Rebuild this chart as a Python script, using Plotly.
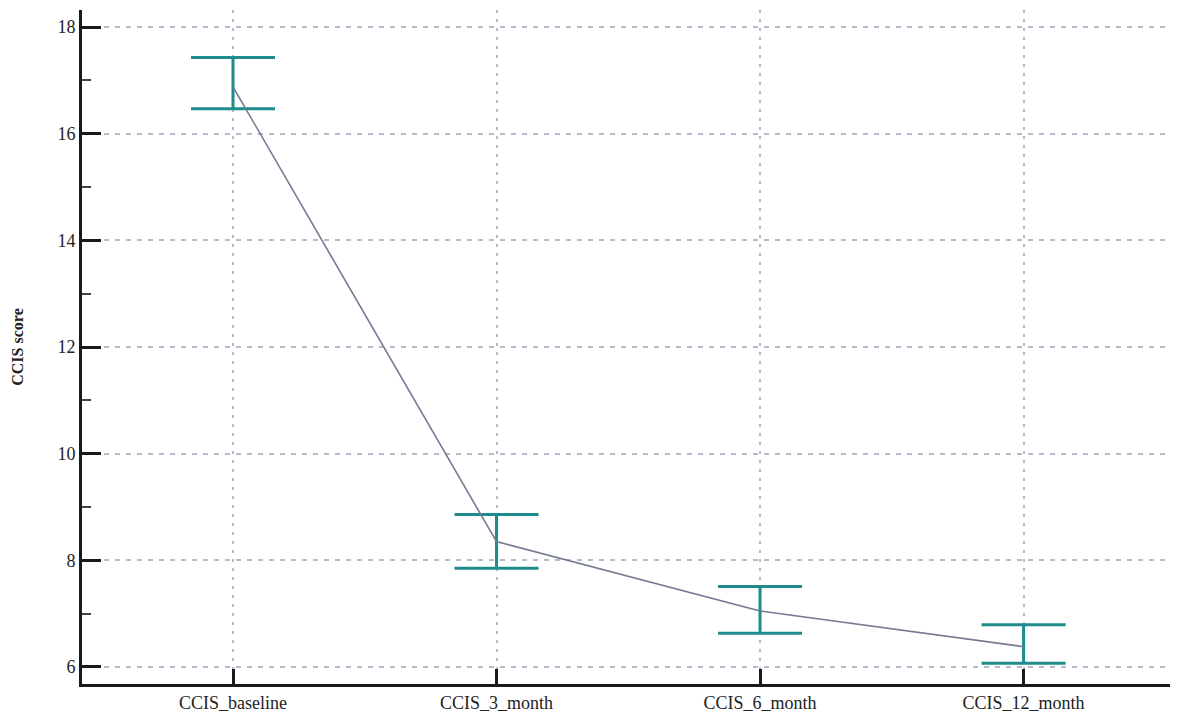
import plotly.graph_objects as go

categories = ["CCIS_baseline", "CCIS_3_month", "CCIS_6_month", "CCIS_12_month"]
means = [16.88, 8.35, 7.05, 6.38]
upper = [17.43, 8.86, 7.51, 6.79]
lower = [16.47, 7.85, 6.63, 6.07]

err_plus = [u - m for u, m in zip(upper, means)]
err_minus = [m - l for m, l in zip(means, lower)]

fig = go.Figure()
fig.add_trace(go.Scatter(
    x=categories, y=means, mode="lines",
    line=dict(color="#737a92", width=1.6),
    error_y=dict(type="data", symmetric=False, array=err_plus, arrayminus=err_minus,
                 color="#1f8c8c", thickness=3, width=42),
    showlegend=False,
))

font = "Liberation Serif, Times New Roman, serif"
fig.update_layout(
    width=1170, height=706,
    margin=dict(l=74, r=0, t=2, b=30),
    paper_bgcolor="white", plot_bgcolor="white",
    font=dict(family=font, size=18, color="#222"),
)
fig.update_xaxes(
    range=[-0.573, 3.586], automargin=False,
    showline=True, linecolor="#1a1a1a", linewidth=3,
    ticks="inside", ticklen=15, tickwidth=3, tickcolor="#1a1a1a",
    showgrid=True, gridcolor="#b4bccb", gridwidth=1.5, griddash="3px,6px",
    tickfont=dict(size=18, family=font),
    zeroline=False,
)
fig.update_yaxes(
    range=[5.68, 18.32], automargin=False,
    dtick=2, tick0=0,
    showline=True, linecolor="#1a1a1a", linewidth=3,
    ticks="inside", ticklen=19, tickwidth=3, tickcolor="#1a1a1a",
    minor=dict(dtick=1, ticks="inside", ticklen=9, tickwidth=1.5, tickcolor="#444", showgrid=False),
    showgrid=True, gridcolor="#b4bccb", gridwidth=1.5, griddash="5px,6px",
    tickfont=dict(size=18, family=font),
    title=dict(text="<b>CCIS score</b>", font=dict(size=16, family=font), standoff=30),
    zeroline=False,
)

fig.write_html("out.html")
